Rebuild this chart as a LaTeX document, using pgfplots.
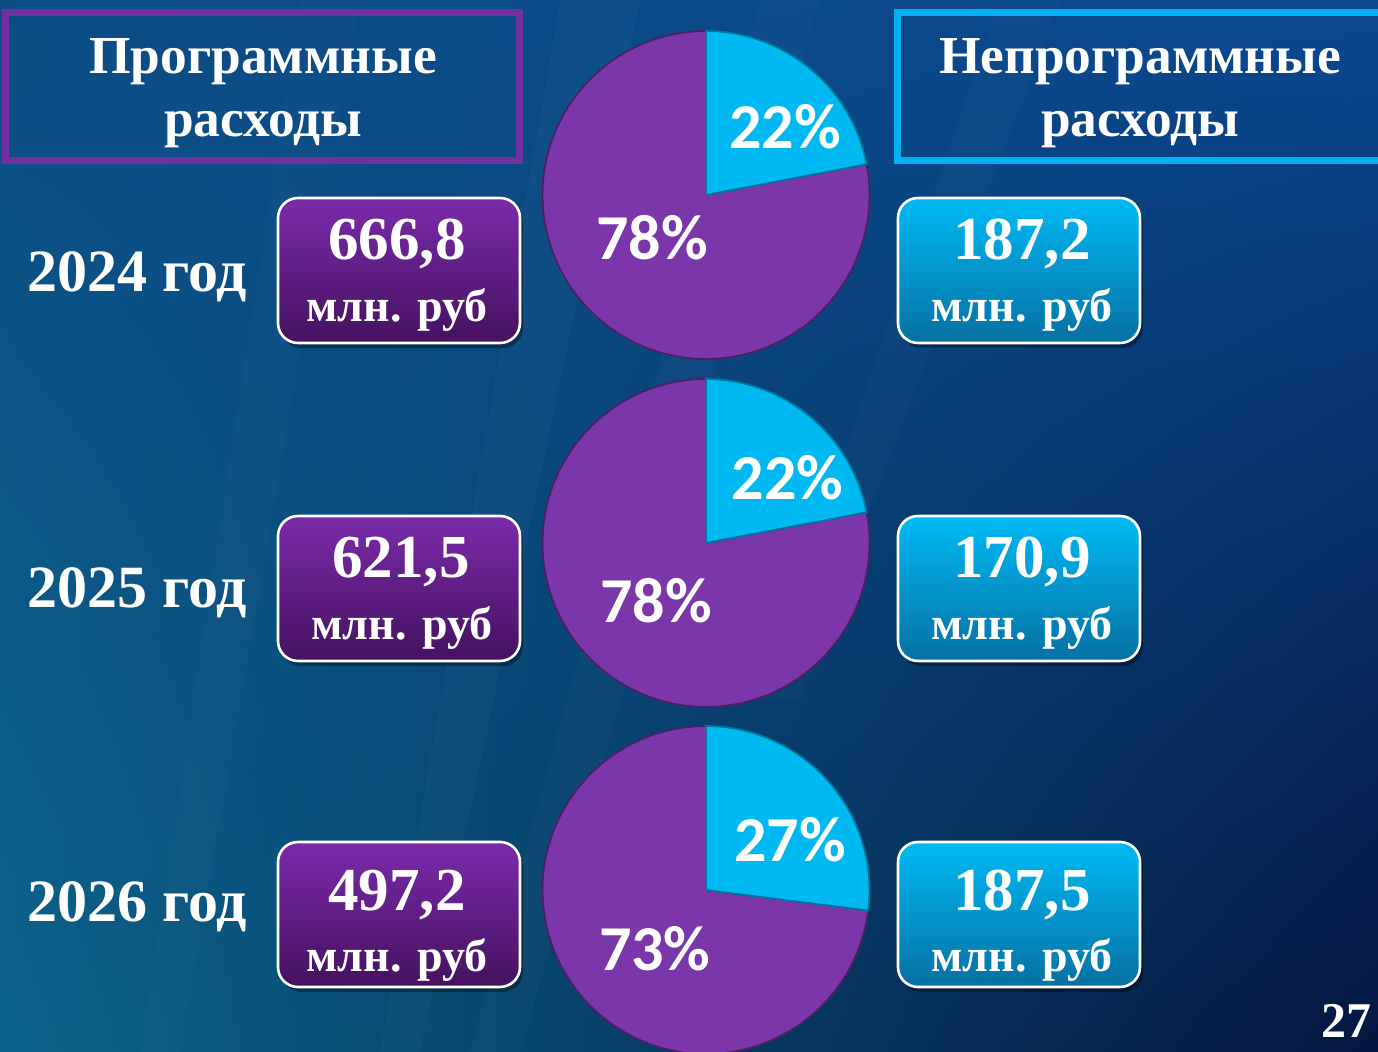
\documentclass[border=0pt]{standalone}
\usepackage{fontspec}
\setmainfont{Liberation Serif}
\newfontfamily\pctfont{Carlito}
\usepackage{pgfplots}
\pgfplotsset{compat=1.18}
\usetikzlibrary{shadings}
\definecolor{bgUL}{HTML}{0C4C84}
\definecolor{bgUR}{HTML}{0A4890}
\definecolor{bgLL}{HTML}{0B6389}
\definecolor{bgLR}{HTML}{04163F}
\definecolor{pieP}{HTML}{7B37A9}
\definecolor{pieC}{HTML}{00B9F2}
\definecolor{boxPtop}{HTML}{7A2AAA}
\definecolor{boxPbot}{HTML}{45125F}
\definecolor{boxCtop}{HTML}{00BAF5}
\definecolor{boxCbot}{HTML}{0670A2}
\definecolor{frameP}{HTML}{7030A0}
\definecolor{frameC}{HTML}{00B0F0}

% Data: cyan (non-program) share in percent, purple (program) share in percent
% 2024: 22 / 78 ; 2025: 22 / 78 ; 2026: 27 / 73
\newcommand{\piechart}[5]{%
  \pgfmathsetmacro{\angA}{90-3.6*#2}%
  \pgfmathsetmacro{\angB}{90+3.6*#3}%
  \begin{axis}[at={(#1)}, anchor=center, scale only axis,
    width=163.5pt, height=164pt, xmin=-1, xmax=1, ymin=-1, ymax=1,
    hide axis, clip=false]
    \addplot[fill=pieP, draw=pieP!60!black, line width=0.9pt, domain=90:\angB,
      samples=150, variable=\t] ({cos(\t)},{sin(\t)}) -- (axis cs:0,0) -- cycle;
    \addplot[fill=pieC, draw=pieC!65!black, line width=0.9pt, domain=\angA:90,
      samples=60, variable=\t] ({cos(\t)},{sin(\t)}) -- (axis cs:0,0) -- cycle;
    \node[text=white, font=\pctfont\bfseries\fontsize{32}{36}\selectfont] at (axis cs:#4) {#2\%};
    \node[text=white, font=\pctfont\bfseries\fontsize{32}{36}\selectfont] at (axis cs:#5) {#3\%};
  \end{axis}}

\newcommand{\valbox}[4]{% top color, bottom color, x0, y0 (px)
  \fill[black, opacity=0.35, rounded corners=10pt] (#3+3,#4+5) rectangle (#3+245,#4+150);
  \shade[top color=#1, bottom color=#2, draw=white, line width=1.3pt, rounded corners=10pt]
    (#3,#4) rectangle (#3+242,#4+145);}

\begin{document}
\begin{tikzpicture}
\useasboundingbox (0pt,0pt) rectangle (689pt,-526pt);
\clip (0pt,0pt) rectangle (689pt,-526pt);
\begin{scope}[x=0.5pt, y=-0.5pt]
  \shade[upper left=bgUL, upper right=bgUR, lower left=bgLL, lower right=bgLR]
    (0,0) rectangle (1378,1052);
  % faint light rays
  \fill[white, opacity=0.025] (560,0) -- (640,0) -- (420,1052) -- (380,1052) -- cycle;
  \fill[white, opacity=0.02] (760,0) -- (820,0) -- (520,1052) -- (470,1052) -- cycle;
  \fill[white, opacity=0.02] (1000,0) -- (1060,0) -- (800,700) -- (760,700) -- cycle;
  \fill[white, opacity=0.015] (300,0) -- (360,0) -- (180,1052) -- (140,1052) -- cycle;
  % title frames
  \draw[frameP, line width=3.5pt] (5,13) rectangle (519,161);
  \draw[frameC, line width=3.5pt] (897,13) rectangle (1385,161);
  \begin{scope}[every node/.style={text=white, font=\bfseries\fontsize{26.7}{30}\selectfont, anchor=base, inner sep=0pt}]
    \node at (263,74) {Программные};
    \node at (263,137) {расходы};
    \node at (1140,74) {Непрограммные};
    \node at (1140,137) {расходы};
  \end{scope}
  % year labels
  \begin{scope}[every node/.style={text=white, font=\bfseries\fontsize{30}{34}\selectfont, anchor=base west, inner sep=0pt}]
    \node at (27,292) {2024 год};
    \node at (27,608) {2025 год};
    \node at (27,922) {2026 год};
  \end{scope}
  % value boxes
  \valbox{boxPtop}{boxPbot}{278}{198}
  \valbox{boxPtop}{boxPbot}{278}{516}
  \valbox{boxPtop}{boxPbot}{278}{842}
  \valbox{boxCtop}{boxCbot}{898}{198}
  \valbox{boxCtop}{boxCbot}{898}{516}
  \valbox{boxCtop}{boxCbot}{898}{842}
  \begin{scope}[every node/.style={text=white, font=\bfseries\fontsize{30.5}{34}\selectfont, anchor=base}]
    \node at (397,260) {666,8};
    \node at (401,578) {621,5};
    \node at (397,911) {497,2};
    \node at (1022,260) {187,2};
    \node at (1022,578) {170,9};
    \node at (1022,911) {187,5};
  \end{scope}
  \begin{scope}[every node/.style={text=white, font=\bfseries\fontsize{23}{26}\selectfont, anchor=base}]
    \node at (397,322) {млн. руб};
    \node at (402,640) {млн. руб};
    \node at (397,972) {млн. руб};
    \node at (1022,322) {млн. руб};
    \node at (1022,640) {млн. руб};
    \node at (1022,972) {млн. руб};
  \end{scope}
  \node[text=white, font=\bfseries\fontsize{25}{28}\selectfont, anchor=base east, inner sep=0pt] at (1372,1038) {27};
  \coordinate (P1) at (706,195);
  \coordinate (P2) at (706,543);
  \coordinate (P3) at (706,890);
\end{scope}
\piechart{P1}{22}{78}{0.485,0.417}{-0.33,-0.26}
\piechart{P2}{22}{78}{0.50,0.40}{-0.305,-0.354}
\piechart{P3}{27}{73}{0.515,0.307}{-0.313,-0.356}
\end{tikzpicture}
\end{document}
